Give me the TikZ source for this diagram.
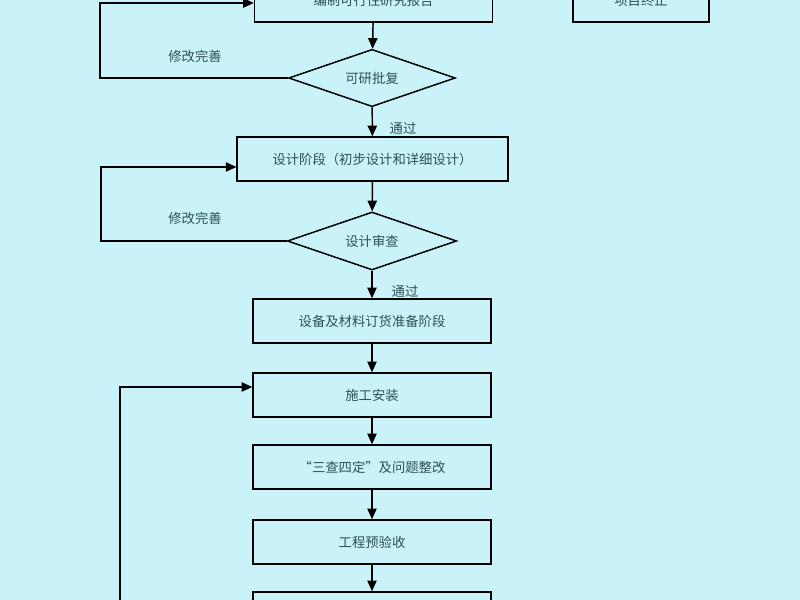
\documentclass[tikz,border=0pt]{standalone}
\usepackage{fontspec}
\setmainfont{Noto Sans CJK SC}
\usetikzlibrary{shapes.geometric,arrows.meta}
\definecolor{bg}{HTML}{C9F3F8}
\definecolor{tx}{HTML}{2F4F55}
\begin{document}
\begin{tikzpicture}[x=0.75pt,y=-0.75pt,
 box/.style={draw,line width=1.1pt,minimum width=178.5pt,minimum height=33pt,inner sep=0pt,font=\fontsize{10}{12}\selectfont,text=tx},
 dia/.style={draw,line width=1.1pt,diamond,aspect=3.7,inner sep=0pt,font=\fontsize{10}{12}\selectfont,text=tx},
 lab/.style={font=\fontsize{10}{12}\selectfont,text=tx},
 arr/.style={line width=1.1pt,-{Triangle[length=8pt,width=7pt]}},
 ln/.style={line width=1.1pt}]
\fill[bg] (0,0) rectangle (800,600);
\useasboundingbox (0,0) rectangle (800,600);
\node[box] (b1) at (373.5,0) {编制可行性研究报告};
\node[box,minimum width=102pt] (t) at (641,0) {项目终止};
\node[dia,minimum width=125pt,minimum height=43pt] (d1) at (372,78) {可研批复};
\node[box,minimum width=203pt] (b2) at (372.5,159) {设计阶段（初步设计和详细设计）};
\node[dia,minimum width=127pt,minimum height=43.5pt] (d2) at (372,241) {设计审查};
\node[box] (b3) at (372,321) {设备及材料订货准备阶段};
\node[box] (b4) at (372,395) {施工安装};
\node[box] (b5) at (372,467) {“三查四定”及问题整改};
\node[box] (b6) at (372,542) {工程预验收};
\node[box] (b7) at (372,614) {};
\coordinate (c1) at (100,78); \coordinate (c2) at (100,3);
\coordinate (c3) at (101,241); \coordinate (c4) at (101,167);
\coordinate (c5) at (120,620); \coordinate (c6) at (120,387);
\draw[arr] (b1) -- (d1);
\draw[arr] (d1) -- (b2);
\draw[arr] (b2) -- (d2);
\draw[arr] (d2) -- (b3);
\draw[arr] (b3) -- (b4);
\draw[arr] (b4) -- (b5);
\draw[arr] (b5) -- (b6);
\draw[arr] (b6) -- (b7);
\draw[arr] (d1.west) -- (c1) -- (c2) -- (c2 -| b1.west);
\draw[arr] (d2.west) -- (c3) -- (c4) -- (c4 -| b2.west);
\draw[arr] (c5) -- (c6) -- (c6 -| b4.west);
\node[lab] (l1) at (195,56) {修改完善};
\node[lab] (l2) at (195,218) {修改完善};
\node[lab] (p1) at (403,128) {通过};
\node[lab] (p2) at (405,291) {通过};
\end{tikzpicture}
\end{document}
